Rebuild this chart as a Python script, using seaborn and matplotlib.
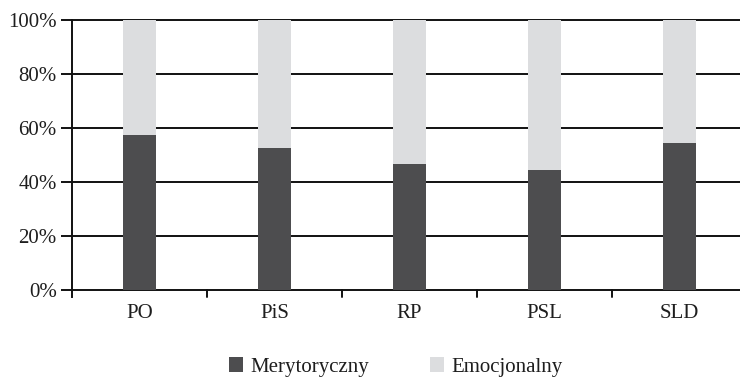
import matplotlib
matplotlib.use("Agg")
import matplotlib.pyplot as plt
import seaborn as sns
import pandas as pd
from matplotlib.patches import Patch

parties = ["PO", "PiS", "RP", "PSL", "SLD"]
merytoryczny = [57.5, 52.5, 46.5, 44.5, 54.5]
emocjonalny = [100 - v for v in merytoryczny]
yticks = [0, 20, 40, 60, 80, 100]
ytick_labels = ["0%", "20%", "40%", "60%", "80%", "100%"]

dark = "#4d4d4f"
light = "#dcdddf"
ink = "#1e1e1e"
fs = 15

sns.set_theme(style="white")
plt.rcParams["font.family"] = ["Liberation Serif", "DejaVu Serif"]

df = pd.DataFrame({
    "partia": parties,
    "Merytoryczny": merytoryczny,
    "Emocjonalny": emocjonalny,
})
df["suma"] = df["Merytoryczny"] + df["Emocjonalny"]

fig = plt.figure(figsize=(7.4, 3.78), dpi=100)
ax = fig.add_axes([72 / 740, 1 - 290 / 378, 668 / 740, 270 / 378])

for y in yticks:
    ax.axhline(y, color="#111111", lw=1.4, zorder=0.5, clip_on=False)

sns.barplot(data=df, x="partia", y="suma", color=light, width=0.245,
            saturation=1, ax=ax, zorder=2, edgecolor="none")
sns.barplot(data=df, x="partia", y="Merytoryczny", color=dark, width=0.245,
            saturation=1, ax=ax, zorder=3, edgecolor="none")

ax.set_xlim(-0.5, -0.5 + 668 / 135)
ax.set_ylim(0, 100)
ax.set_yticks(yticks)
ax.set_yticklabels(ytick_labels, fontsize=fs, color=ink)
ax.set_xlabel("")
ax.set_ylabel("")
ax.set_xticks(range(len(parties)))
ax.set_xticklabels(parties, fontsize=fs, color=ink)
ax.tick_params(axis="x", length=0, pad=10)
ax.tick_params(axis="y", left=True, length=8, width=1.4, color="#111111", pad=3)

# separators between categories on the baseline
for b in [0.5, 1.5, 2.5, 3.5]:
    ax.plot([b, b], [0, -2.6], color="#111111", lw=1.4, clip_on=False)

for s in ["top", "right", "bottom"]:
    ax.spines[s].set_visible(False)
ax.spines["left"].set_color("#111111")
ax.spines["left"].set_linewidth(1.4)
ax.spines["left"].set_bounds(-2.6, 100)

em = fs * 100 / 72
legend_items = [(dark, "Merytoryczny", 229), (light, "Emocjonalny", 430)]
for color, label, left in legend_items:
    fig.legend(handles=[Patch(facecolor=color, edgecolor="none", label=label)],
               loc="center left", bbox_to_anchor=(left / 740, 1 - 367 / 378),
               frameon=False, fontsize=fs, handlelength=14 / em, handleheight=14 / em,
               handletextpad=7 / em, borderpad=0, borderaxespad=0, labelcolor=ink)

fig.savefig("out.png", dpi=100)
